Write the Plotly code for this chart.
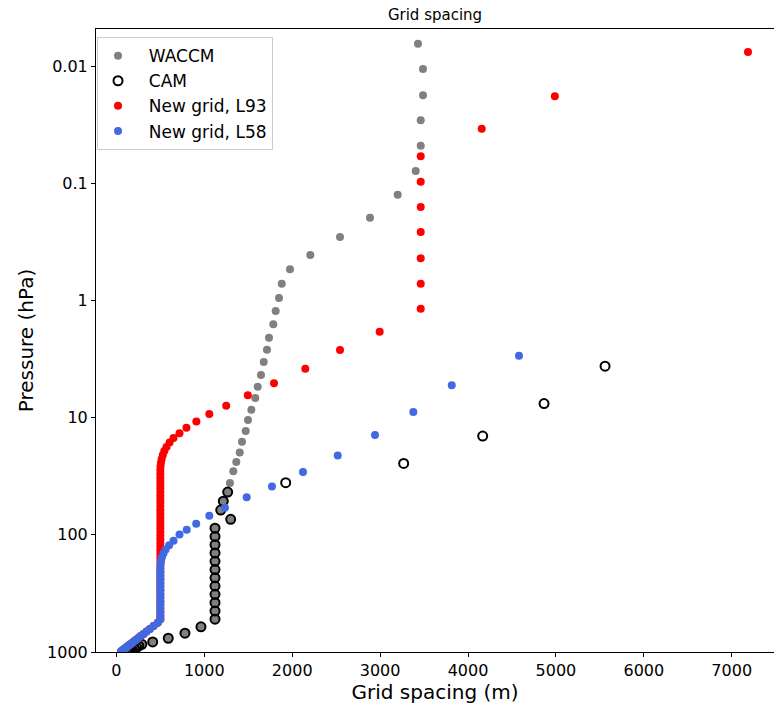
import plotly.graph_objects as go

# ---------------- data (pressure in hPa, grid spacing in m) ----------------
waccm_p = [0.00645, 0.01061, 0.01778, 0.02904, 0.0479, 0.0787, 0.1253, 0.197, 0.2877, 0.410,
           0.543, 0.721, 0.954, 1.231, 1.599, 2.08, 2.63, 3.35, 4.33, 5.45,
           6.80, 8.56, 10.5, 13.0, 16.1, 19.8, 23.9, 28.7, 36.1, 43.19,
           51.68, 61.52, 73.75, 87.82, 103.32, 121.55, 142.99, 168.23, 197.91, 232.83,
           273.91, 322.24, 379.10, 445.99, 524.69, 609.78, 691.39, 763.40, 820.86, 859.53,
           887.02, 912.64, 936.20, 957.49, 976.33, 992.56]
waccm_dz = [3431, 3488, 3488, 3462, 3462, 3405, 3200, 2885, 2544, 2206,
            1975, 1881, 1850, 1812, 1785, 1736, 1713, 1676, 1645, 1607,
            1580, 1535, 1497, 1471, 1429, 1403, 1364, 1330, 1292, 1266,
            1216, 1187, 1300, 1122, 1122, 1122, 1122, 1122, 1122, 1122,
            1122, 1122, 1122, 1122, 1122, 962, 780, 590, 413, 290,
            255, 230, 205, 180, 155, 130]

cam_p = [3.64, 7.59, 14.36, 24.61, 35.92, 43.19, 51.68, 61.52, 73.75, 87.82,
         103.32, 121.55, 142.99, 168.23, 197.91, 232.83, 273.91, 322.24, 379.10, 445.99,
         524.69, 609.78, 691.39, 763.40, 820.86, 859.53, 887.02, 912.64, 936.20, 957.49,
         976.33, 992.56]
cam_dz = [5559, 4865, 4167, 3268, 1926, 1266, 1216, 1187, 1300, 1122,
          1122, 1122, 1122, 1122, 1122, 1122, 1122, 1122, 1122, 1122,
          1122, 962, 780, 590, 413, 290, 255, 230, 205, 180,
          155, 130]

l93_p = [0.0076, 0.01815, 0.0343, 0.0589, 0.0970, 0.1596, 0.2607, 0.4375, 0.7197, 1.178,
         1.849, 2.65, 3.83, 5.10, 6.45, 7.91, 9.33, 10.8, 12.2, 13.6,
         14.93, 16.33, 17.78, 19.27, 20.85, 22.51, 24.26, 26.08, 28.05, 30.13,
         32.36, 34.76, 37.34, 40.11, 43.08, 46.27, 49.70, 53.39, 57.34, 61.60,
         66.16, 71.07, 76.33, 81.99, 88.07, 94.62, 101.6, 109.2, 117.3, 125.9,
         135.3, 145.3, 156.1, 167.7, 180.1, 193.5, 207.8, 223.3, 239.8, 257.6,
         276.7, 297.2, 319.2, 342.9, 368.3, 395.6, 424.9, 456.4, 490.3, 526.6,
         563.3, 600.4, 635.9, 669.7, 701.6, 731.6, 759.7, 785.9, 810.3, 832.8,
         853.6, 872.9, 890.6, 906.8, 921.6, 935.2, 947.6, 958.8, 969.1, 978.5,
         987.0, 994.6]
l93_dz = [7185, 4988, 4156, 3462, 3462, 3462, 3462, 3462, 3462, 3462,
          2995, 2544, 2149, 1793, 1495, 1249, 1057, 910, 797, 718,
          650, 605, 570, 545, 528, 515, 507, 502, 500, 500,
          500, 500, 500, 500, 500, 500, 500, 500, 500, 500,
          500, 500, 500, 500, 500, 500, 500, 500, 500, 500,
          500, 500, 500, 500, 500, 500, 500, 500, 500, 500,
          500, 500, 500, 500, 500, 500, 500, 500, 500, 500,
          470, 423, 381, 343, 308, 278, 250, 225, 202, 182,
          164, 148, 133, 119, 108, 97, 87, 78, 71, 64,
          57, 51]

l58_p = [2.96, 5.30, 8.96, 14.1, 21.0, 29.1, 38.7, 47.8, 58.7, 68.9,
         80.4, 90.6, 99.4, 112.3, 122.8, 133.4, 144.2, 155.5, 167.3, 179.8,
         193.5, 207.8, 223.3, 239.8, 257.6, 276.7, 297.2, 319.2, 342.9, 368.3,
         395.6, 424.9, 456.4, 490.3, 526.6, 563.3, 600.4, 635.9, 669.7, 701.6,
         731.6, 759.7, 785.9, 810.3, 832.8, 853.6, 872.9, 890.6, 906.8, 921.6,
         935.2, 947.6, 958.8, 969.1, 978.5, 987.0, 994.6]
l58_dz = [4580, 3815, 3378, 2942, 2518, 2123, 1770, 1482, 1235, 1057,
          908, 800, 718, 650, 600, 560, 535, 518, 508, 502,
          500, 500, 500, 500, 500, 500, 500, 500, 500, 500,
          500, 500, 500, 500, 500, 470, 423, 381, 343, 308,
          278, 250, 225, 202, 182, 164, 148, 133, 119, 108,
          97, 87, 78, 71, 64, 57, 51]

series_names = ["WACCM", "CAM", "New grid, L93", "New grid, L58"]
x_ticks = [0, 1000, 2000, 3000, 4000, 5000, 6000, 7000]
y_ticks = [0.01, 0.1, 1, 10, 100, 1000]
y_tick_labels = ["0.01", "0.1", "1", "10", "100", "1000"]

FONT = "DejaVu Sans"
PAD = "\u00a0\u00a0"
FIG_W, FIG_H = 774, 704

fig = go.Figure()
fig.add_trace(go.Scatter(x=waccm_dz, y=waccm_p, mode="markers", name=PAD + series_names[0],
                         marker=dict(color="#808080", size=8, line=dict(width=0))))
fig.add_trace(go.Scatter(x=cam_dz, y=cam_p, mode="markers", name=PAD + series_names[1],
                         marker=dict(color="rgba(0,0,0,0)", size=9,
                                     line=dict(color="black", width=2))))
fig.add_trace(go.Scatter(x=l93_dz, y=l93_p, mode="markers", name=PAD + series_names[2],
                         marker=dict(color="#ff0000", size=8, line=dict(width=0))))
fig.add_trace(go.Scatter(x=l58_dz, y=l58_p, mode="markers", name=PAD + series_names[3],
                         marker=dict(color="#4169e1", size=8, line=dict(width=0))))

axis_common = dict(showgrid=False, zeroline=False, showline=True, linecolor="black",
                   linewidth=1, ticks="outside", ticklen=4, tickwidth=1, tickcolor="black",
                   automargin=False,
                   tickfont=dict(family=FONT, size=16, color="black"))

fig.update_layout(
    width=FIG_W, height=FIG_H,
    margin=dict(l=96, r=0, t=29, b=52, autoexpand=False),
    paper_bgcolor="white", plot_bgcolor="white",
    font=dict(family=FONT, color="black"),
    title=dict(text="Grid spacing", x=0.5, xref="paper", xanchor="center",
               y=1 - 15 / FIG_H, yref="container", yanchor="middle",
               font=dict(family=FONT, size=15, color="black")),
    xaxis=dict(range=[-232, 7481], tickvals=x_ticks, mirror=True,
               title=dict(text="Grid spacing (m)", font=dict(family=FONT, size=20), standoff=4),
               **axis_common),
    yaxis=dict(type="log", range=[3, -2.316], tickvals=y_ticks, ticktext=y_tick_labels,
               title=dict(text="Pressure (hPa)", font=dict(family=FONT, size=20), standoff=8),
               **axis_common),
    legend=dict(x=0.0015, y=0.987, xanchor="left", yanchor="top",
                bordercolor="#cccccc", borderwidth=1, bgcolor="rgba(255,255,255,0.85)",
                font=dict(family=FONT, size=17, color="black"), itemwidth=30),
    showlegend=True,
)

# remove the page's default 8 px body margin so the figure fills the window exactly
fig.write_html(
    "out.html",
    config={"displayModeBar": False},
    post_script="document.body.style.margin='0px';"
                "document.documentElement.style.overflow='hidden';",
)
